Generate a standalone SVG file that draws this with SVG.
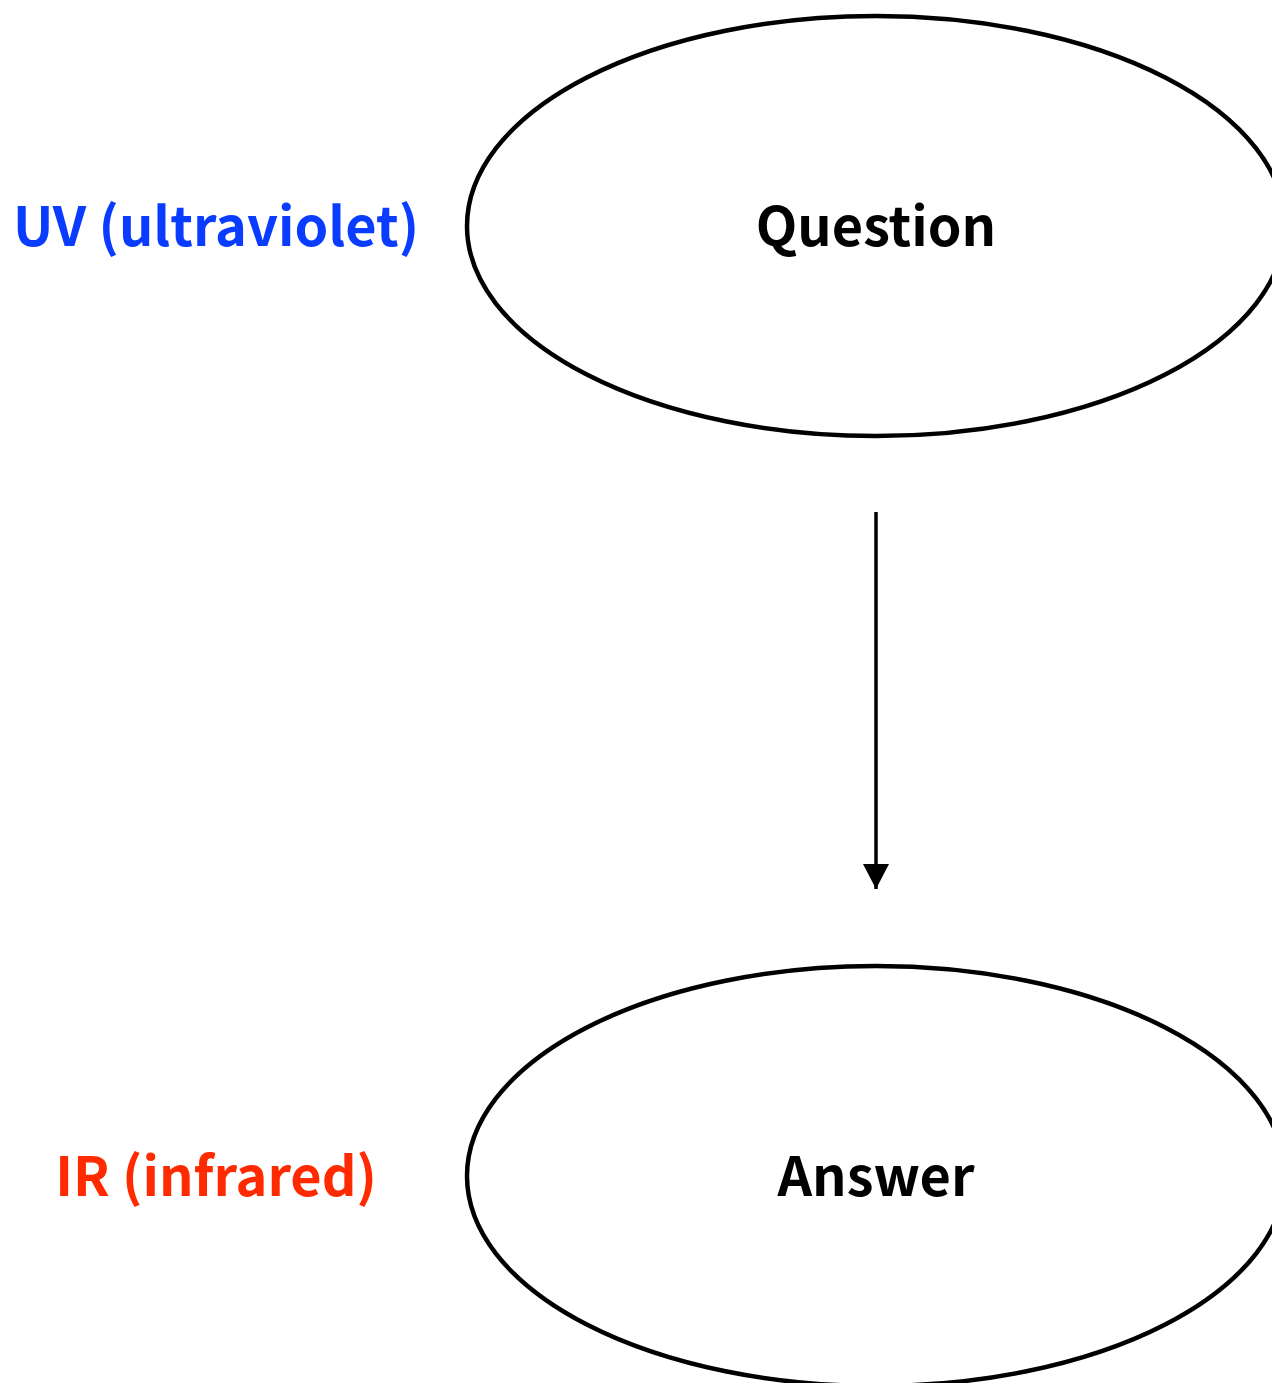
<svg xmlns="http://www.w3.org/2000/svg" width="1272" height="1383" viewBox="0 0 1272 1383">
<style>
.node{fill:#ffffff;stroke:#000000;stroke-width:4.5}
.lbl{font-family:"Noto Sans CJK JP","Noto Sans",sans-serif;font-weight:bold;font-size:54px;text-anchor:middle}
.edge{stroke:#000000;stroke-width:3.5;fill:none}
</style>
<defs>
<marker id="arr" markerWidth="25" markerHeight="26" refX="25" refY="13" orient="auto" markerUnits="userSpaceOnUse">
<path d="M0,0 L25,13 L0,26 Z" fill="#000000"/>
</marker>
</defs>
<rect width="1272" height="1383" fill="#ffffff"/>
<g id="label-uv"><text class="lbl" x="216" y="246" fill="#0a3cff">UV (ultraviolet)</text></g>
<g id="label-ir"><text class="lbl" x="216" y="1196" fill="#ff2a00">IR (infrared)</text></g>
<g id="question"><ellipse class="node" cx="876" cy="226" rx="409" ry="210"/><text class="lbl" x="876" y="246" fill="#000000">Question</text></g>
<g id="answer"><ellipse class="node" cx="876" cy="1176" rx="409" ry="210"/><text class="lbl" x="876" y="1196" fill="#000000">Answer</text></g>
<g id="connectors"><line class="edge" x1="876" y1="512" x2="876" y2="889" marker-end="url(#arr)"/></g>
</svg>
